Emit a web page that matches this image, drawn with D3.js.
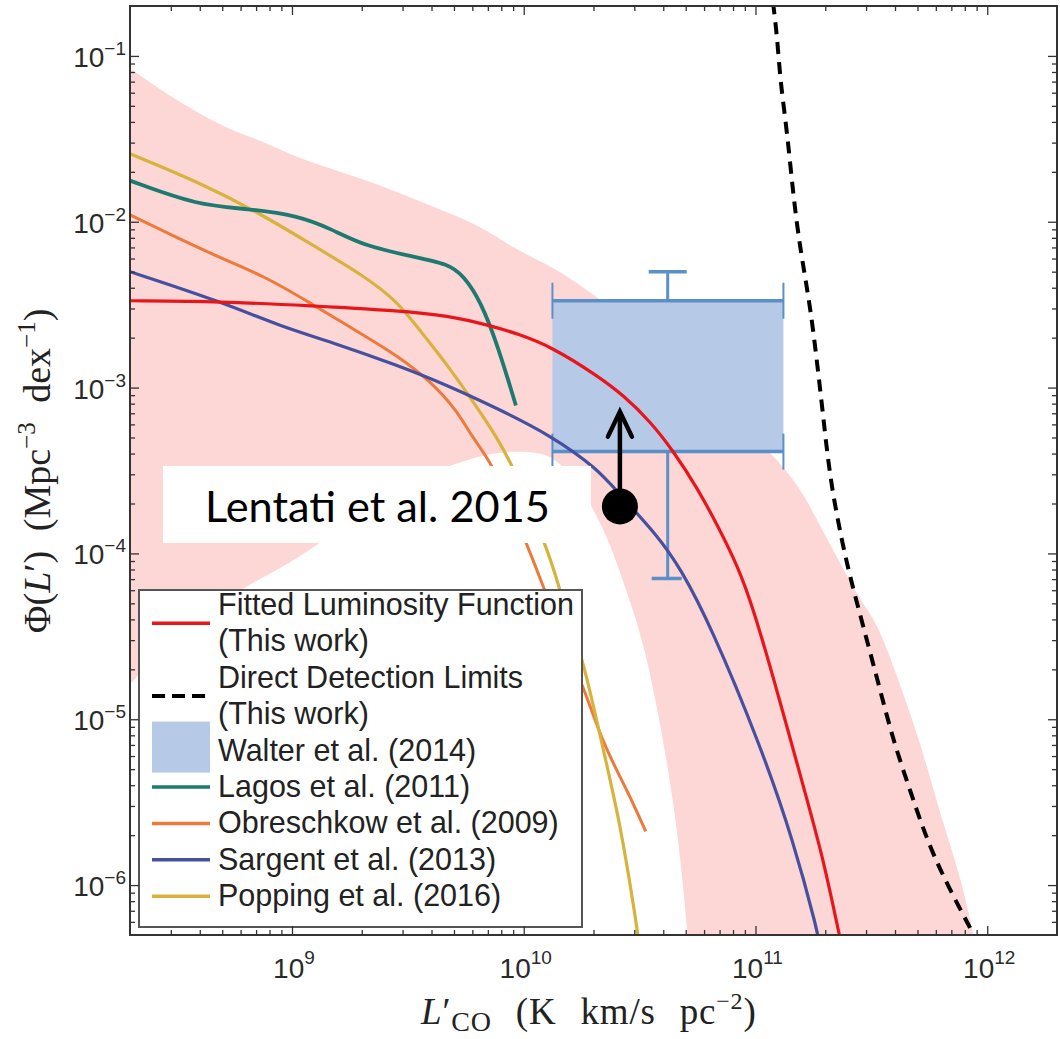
<!DOCTYPE html>
<html>
<head>
<meta charset="utf-8">
<script src="https://cdn.jsdelivr.net/npm/d3@7"></script>
<style>
  body { margin: 0; background: #fff; }
  svg { display: block; }
</style>
</head>
<body>
<svg id="chart" width="1060" height="1039"></svg>
<script>
// CO luminosity function: Phi(L') [Mpc^-3 dex^-1] against L'_CO [K km/s pc^2]

// axis ticks
const xMajor = [1e9, 1e10, 1e11, 1e12];
const xMajorExp = ["9", "10", "11", "12"];
const yMajor = [1e-1, 1e-2, 1e-3, 1e-4, 1e-5, 1e-6];
const yMajorExp = ["−1", "−2", "−3", "−4", "−5", "−6"];

// [L'_CO, Phi] pairs
const fittedLF = [
  [2.0e8, 3.34e-3], [4.94e8, 3.30e-3], [1.21e9, 3.12e-3], [2.86e9, 2.91e-3],
  [4.70e9, 2.72e-3], [7.21e9, 2.36e-3], [9.42e9, 2.11e-3], [1.31e10, 1.77e-3],
  [2.08e10, 1.18e-3], [2.70e10, 8.95e-4], [3.52e10, 6.24e-4], [4.44e10, 4.11e-4],
  [5.62e10, 2.47e-4], [6.85e10, 1.48e-4], [8.36e10, 8.47e-5], [9.79e10, 4.67e-5],
  [1.24e11, 1.48e-5], [1.56e11, 4.60e-6], [1.96e11, 1.46e-6], [2.28e11, 5.28e-7],
  [2.34e11, 4.5e-7]
];
const detectionLimit = [
  [1.19e11, 0.21], [1.24e11, 1.32e-1], [1.28e11, 6.97e-2], [1.37e11, 3.48e-2],
  [1.46e11, 1.38e-2], [1.56e11, 6.87e-3], [1.68e11, 3.78e-3], [1.78e11, 2.17e-3],
  [1.96e11, 6.78e-4], [2.10e11, 2.72e-4], [2.44e11, 9.33e-5], [2.78e11, 4.67e-5],
  [3.46e11, 1.48e-5], [3.94e11, 7.36e-6], [4.66e11, 3.68e-6], [5.51e11, 1.84e-6],
  [6.73e11, 1.0e-6], [8.45e11, 5.51e-7], [8.87e11, 4.8e-7]
];
const lagos2011 = [
  [2.0e8, 1.77e-2], [3.94e8, 1.25e-2], [6.46e8, 1.20e-2], [1.06e9, 1.09e-2],
  [1.47e9, 9.08e-3], [2.04e9, 7.16e-3], [3.36e9, 6.15e-3], [4.70e9, 5.58e-3],
  [5.51e9, 4.73e-3], [6.53e9, 3.30e-3], [7.73e9, 1.79e-3], [9.25e9, 7.80e-4]
];
const obreschkow2009 = [
  [2.0e8, 1.10e-2], [4.61e8, 6.24e-3], [7.57e8, 4.73e-3], [1.21e9, 3.21e-3],
  [1.74e9, 2.36e-3], [2.86e9, 1.56e-3], [3.97e9, 1.09e-3], [5.20e9, 7.16e-4],
  [5.92e9, 5.14e-4], [7.21e9, 3.58e-4], [9.06e9, 1.79e-4], [1.18e10, 7.06e-5],
  [1.55e10, 2.57e-5], [1.82e10, 1.54e-5], [2.21e10, 6.97e-6], [2.81e10, 3.68e-6],
  [3.36e10, 2.11e-6]
];
const sargent2013 = [
  [2.0e8, 5.0e-3], [4.94e8, 3.30e-3], [8.97e8, 2.33e-3], [1.47e9, 1.89e-3],
  [2.86e9, 1.36e-3], [4.70e9, 1.03e-3], [7.73e9, 7.46e-4], [1.31e10, 5.14e-4],
  [2.08e10, 3.25e-4], [2.62e10, 2.23e-4], [3.78e10, 1.28e-4], [4.75e10, 8.13e-5],
  [6.40e10, 3.68e-5], [1.05e11, 6.97e-6], [1.46e11, 1.84e-6], [1.85e11, 5.28e-7],
  [1.88e11, 4.5e-7]
];
const popping2016 = [
  [2.0e8, 2.57e-2], [3.94e8, 1.74e-2], [7.57e8, 1.09e-2], [1.24e9, 7.16e-3],
  [2.04e9, 4.73e-3], [2.86e9, 3.30e-3], [3.60e9, 2.17e-3], [4.70e9, 1.36e-3],
  [5.92e9, 8.59e-4], [7.73e9, 4.93e-4], [9.06e9, 3.25e-4], [1.15e10, 1.48e-4],
  [1.35e10, 8.13e-5], [1.55e10, 4.06e-5], [1.80e10, 2.33e-5], [2.21e10, 6.41e-6],
  [2.62e10, 2.30e-6], [3.10e10, 5.28e-7], [3.13e10, 4.5e-7]
];

// uncertainty region of the fitted function: upper edge left to right, lower edge right to left
const bandUpper = [
  [1.85e8, 9.0e-2], [2.02e8, 8.35e-2], [3.42e8, 5.0e-2], [5.62e8, 3.48e-2], [7.13e8, 3.16e-2],
  [1.06e9, 2.40e-2], [2.04e9, 1.82e-2], [3.97e9, 1.25e-2], [6.53e9, 9.46e-3],
  [9.06e9, 6.87e-3], [1.31e10, 5.43e-3], [1.95e10, 3.78e-3], [3.52e10, 1.97e-3],
  [5.79e10, 9.86e-4], [9.51e10, 5.28e-4], [1.33e11, 3.34e-4], [1.63e11, 2.23e-4],
  [1.92e11, 1.42e-4], [2.30e11, 8.95e-5], [2.75e11, 5.58e-5], [3.36e11, 3.78e-5],
  [3.94e11, 2.08e-5], [5.14e11, 7.36e-6], [6.46e11, 2.30e-6], [7.66e11, 1.15e-6],
  [9.3e11, 3.4e-7], [1.0e12, 1.5e-7]
];
const bandLower = [
  [5.3e10, 1.5e-7], [5.25e10, 3.4e-7], [4.61e10, 2.30e-6], [3.90e10, 9.20e-6],
  [3.29e10, 2.95e-5], [2.75e10, 6.15e-5], [2.30e10, 1.28e-4], [1.76e10, 2.57e-4],
  [1.35e10, 3.89e-4], [1.07e10, 4.11e-4], [7.73e9, 4.11e-4], [5.51e9, 3.63e-4],
  [3.60e9, 2.91e-4], [2.42e9, 2.14e-4], [1.29e9, 1.12e-4], [8.97e8, 8.13e-5],
  [6.03e8, 6.15e-5], [4.06e8, 4.17e-5], [2.72e8, 2.61e-5], [2.02e8, 1.65e-5],
  [1.85e8, 1.45e-5]
];

// Walter et al. (2014) constraint box
const walterL = [1.33e10, 1.32e11];
const walterPhi = [4.11e-4, 3.34e-3];
const walterLmid = 4.18e10;
const walterErr = [7.06e-5, 5.0e-3];

// Lentati et al. 2015 lower limit
const lentatiPoint = [2.60e10, 1.92e-4];
const lentatiLimit = 7.16e-4;

const legendItems = [
  { lines: ["Fitted Luminosity Function", "(This work)"], kind: "line", color: "#e8161b" },
  { lines: ["Direct Detection Limits", "(This work)"], kind: "dash", color: "#000" },
  { lines: ["Walter et al. (2014)"], kind: "patch", color: "#b6c9e6" },
  { lines: ["Lagos et al. (2011)"], kind: "line", color: "#1d7a70" },
  { lines: ["Obreschkow et al. (2009)"], kind: "line", color: "#ec7a3b" },
  { lines: ["Sargent et al. (2013)"], kind: "line", color: "#45509f" },
  { lines: ["Popping et al. (2016)"], kind: "line", color: "#d8b33c" }
];

// ---- drawing ----
const svg = d3.select("#chart");
const X0 = 130, X1 = 1057, Y0 = 6, Y1 = 935;
const x = d3.scaleLog().domain([2e8, 2e12]).range([X0, X1]);
const y = d3.scaleLog().domain([5e-7, 0.2]).range([Y1, Y0]);

svg.append("defs").append("clipPath").attr("id", "plotArea")
  .append("rect").attr("x", X0).attr("y", Y0).attr("width", X1 - X0).attr("height", Y1 - Y0);

const plot = svg.append("g").attr("clip-path", "url(#plotArea)");
const line = d3.line().x(d => x(d[0])).y(d => y(d[1])).curve(d3.curveBasis);

// shaded uncertainty band
plot.append("path")
  .attr("d", line(bandUpper.concat(bandLower)) + "Z")
  .attr("fill", "#fdd6d6");

// Walter box
const wBlue = "#5b8fc8";
plot.append("rect")
  .attr("x", x(walterL[0])).attr("width", x(walterL[1]) - x(walterL[0]))
  .attr("y", y(walterPhi[1])).attr("height", y(walterPhi[0]) - y(walterPhi[1]))
  .attr("fill", "#b6c9e6");
const wg = plot.append("g").attr("stroke", wBlue).attr("fill", "none");
walterPhi.forEach(p => {
  wg.append("line").attr("x1", x(walterL[0])).attr("x2", x(walterL[1]))
    .attr("y1", y(p)).attr("y2", y(p)).attr("stroke-width", 3.5);
  walterL.forEach(l => {
    wg.append("line").attr("x1", x(l)).attr("x2", x(l))
      .attr("y1", y(p) - 18).attr("y2", y(p) + 18).attr("stroke-width", 2);
  });
});
wg.append("line").attr("x1", x(walterLmid)).attr("x2", x(walterLmid))
  .attr("y1", y(walterPhi[1])).attr("y2", y(walterErr[1])).attr("stroke-width", 3);
wg.append("line").attr("x1", x(walterLmid) - 19).attr("x2", x(walterLmid) + 19)
  .attr("y1", y(walterErr[1])).attr("y2", y(walterErr[1])).attr("stroke-width", 3.5);
wg.append("line").attr("x1", x(walterLmid)).attr("x2", x(walterLmid))
  .attr("y1", y(walterPhi[0])).attr("y2", y(walterErr[0])).attr("stroke-width", 3);
wg.append("line").attr("x1", x(walterLmid) - 16).attr("x2", x(walterLmid) + 14)
  .attr("y1", y(walterErr[0])).attr("y2", y(walterErr[0])).attr("stroke-width", 3.5);

// model curves
const curves = [
  { data: obreschkow2009, color: "#ec7a3b", w: 3 },
  { data: popping2016, color: "#d8b33c", w: 3.2 },
  { data: lagos2011, color: "#1d7a70", w: 3.8 },
  { data: sargent2013, color: "#45509f", w: 3.2 },
  { data: fittedLF, color: "#e8161b", w: 3.2 }
];
curves.forEach(c => {
  plot.append("path").attr("d", line(c.data)).attr("fill", "none")
    .attr("stroke", c.color).attr("stroke-width", c.w).attr("stroke-linejoin", "round");
});
plot.append("path").attr("d", line(detectionLimit)).attr("fill", "none")
  .attr("stroke", "#000").attr("stroke-width", 4).attr("stroke-dasharray", "12,8");

// Lentati annotation
svg.append("rect").attr("x", 163).attr("y", 466).attr("width", 428).attr("height", 77).attr("fill", "#fff");
const lt = svg.append("text").attr("x", 205).attr("y", 522)
  .attr("font-family", "Lato, 'Open Sans', sans-serif").attr("font-size", 44).attr("fill", "#000")
  .text("Lentati et al. 2015");
const ltLen = lt.node().getComputedTextLength();
lt.attr("font-size", 44 * 345 / ltLen);

const lx = x(lentatiPoint[0]), ly = y(lentatiPoint[1]), ltip = y(lentatiLimit);
svg.append("line").attr("x1", lx).attr("x2", lx).attr("y1", ly).attr("y2", ltip + 2)
  .attr("stroke", "#000").attr("stroke-width", 4.5);
svg.append("polyline")
  .attr("points", `${lx - 12},${ltip + 25} ${lx},${ltip} ${lx + 12},${ltip + 25}`)
  .attr("fill", "none").attr("stroke", "#000").attr("stroke-width", 4.5)
  .attr("stroke-linecap", "round").attr("stroke-linejoin", "miter");
svg.append("circle").attr("cx", lx).attr("cy", ly).attr("r", 18).attr("fill", "#000");

// legend
const leg = svg.append("g");
leg.append("rect").attr("x", 139).attr("y", 590).attr("width", 443).attr("height", 337)
  .attr("fill", "#fff").attr("stroke", "#555").attr("stroke-width", 2);
const rowY = i => 605 + 36.4 * i;
let row = 0;
legendItems.forEach(item => {
  const n = item.lines.length;
  const cy = (rowY(row) + rowY(row + n - 1)) / 2;
  if (item.kind === "line") {
    leg.append("line").attr("x1", 152).attr("x2", 210).attr("y1", cy).attr("y2", cy)
      .attr("stroke", item.color).attr("stroke-width", 3.5);
  } else if (item.kind === "dash") {
    leg.append("line").attr("x1", 152).attr("x2", 210).attr("y1", cy).attr("y2", cy)
      .attr("stroke", item.color).attr("stroke-width", 4).attr("stroke-dasharray", "13,7");
  } else {
    leg.append("rect").attr("x", 152).attr("y", cy - 29).attr("width", 58).attr("height", 51)
      .attr("fill", item.color);
  }
  item.lines.forEach((t, k) => {
    leg.append("text").attr("x", 218).attr("y", rowY(row + k) + 10)
      .attr("font-family", "'Liberation Sans', Arial, sans-serif").attr("font-size", 30.5)
      .attr("fill", "#222").text(t);
  });
  row += n;
});

// frame and ticks
const xMinor = [], yMinor = [];
for (let k = 8; k <= 12; k++) for (let m = 2; m <= 9; m++) {
  const v = m * Math.pow(10, k);
  if (v > 2e8 && v < 2e12) xMinor.push(v);
}
for (let k = -7; k <= -1; k++) for (let m = 2; m <= 9; m++) {
  const v = m * Math.pow(10, k);
  if (v > 5e-7 && v < 0.2) yMinor.push(v);
}
function tickSet(axis, tx, ty, vals, size) {
  svg.append("g").attr("transform", `translate(${tx},${ty})`)
    .call(axis.tickValues(vals).tickSize(size).tickFormat(""))
    .call(g => g.select(".domain").remove())
    .selectAll("line").attr("stroke", "#333").attr("stroke-width", 1.3);
}
tickSet(d3.axisBottom(x), 0, Y1, xMajor, -9);
tickSet(d3.axisBottom(x), 0, Y1, xMinor, -5);
tickSet(d3.axisTop(x), 0, Y0, xMajor, -9);
tickSet(d3.axisTop(x), 0, Y0, xMinor, -5);
tickSet(d3.axisLeft(y), X0, 0, yMajor, -9);
tickSet(d3.axisLeft(y), X0, 0, yMinor, -5);
tickSet(d3.axisRight(y), X1, 0, yMajor, -9);
tickSet(d3.axisRight(y), X1, 0, yMinor, -5);

svg.append("rect").attr("x", X0).attr("y", Y0).attr("width", X1 - X0).attr("height", Y1 - Y0)
  .attr("fill", "none").attr("stroke", "#333").attr("stroke-width", 2);

// tick labels
const sans = "'Liberation Sans', Arial, sans-serif";
xMajor.forEach((v, i) => {
  const t = svg.append("text").attr("x", x(v) + 2).attr("y", 978)
    .attr("text-anchor", "middle").attr("font-family", sans).attr("font-size", 28).attr("fill", "#2a2a2a");
  t.append("tspan").text("10");
  t.append("tspan").attr("dy", -14).attr("font-size", 19).text(xMajorExp[i]);
});
yMajor.forEach((v, i) => {
  const t = svg.append("text").attr("x", 126).attr("y", y(v) + 11)
    .attr("text-anchor", "end").attr("font-family", sans).attr("font-size", 28).attr("fill", "#2a2a2a");
  t.append("tspan").text("10");
  t.append("tspan").attr("dy", -12).attr("font-size", 19).text(yMajorExp[i]);
});

// axis titles
const serif = "'Liberation Serif', 'DejaVu Serif', serif";
const xt = svg.append("text").attr("x", 421).attr("y", 1024)
  .attr("font-family", serif).attr("font-size", 37).attr("fill", "#222")
  .attr("letter-spacing", 0.8);
xt.append("tspan").attr("font-style", "italic").text("L");
xt.append("tspan").text("′");
xt.append("tspan").attr("dy", 7).attr("font-size", 28).text("CO");
xt.append("tspan").attr("dy", -7).attr("word-spacing", 14).text(" (K km/s pc");
xt.append("tspan").attr("dy", -15).attr("font-size", 24).text("−2");
xt.append("tspan").attr("dy", 15).text(")");

const yt = svg.append("text").attr("transform", "translate(50,471) rotate(-90)")
  .attr("text-anchor", "middle")
  .attr("font-family", serif).attr("font-size", 38).attr("fill", "#222");
yt.append("tspan").text("Φ(");
yt.append("tspan").attr("font-style", "italic").text("L");
yt.append("tspan").attr("word-spacing", 10).text("′) (Mpc");
yt.append("tspan").attr("dy", -15).attr("font-size", 25).text("−3");
yt.append("tspan").attr("dy", 15).attr("word-spacing", 10).text(" dex");
yt.append("tspan").attr("dy", -15).attr("font-size", 25).text("−1");
yt.append("tspan").attr("dy", 15).text(")");
</script>
</body>
</html>
